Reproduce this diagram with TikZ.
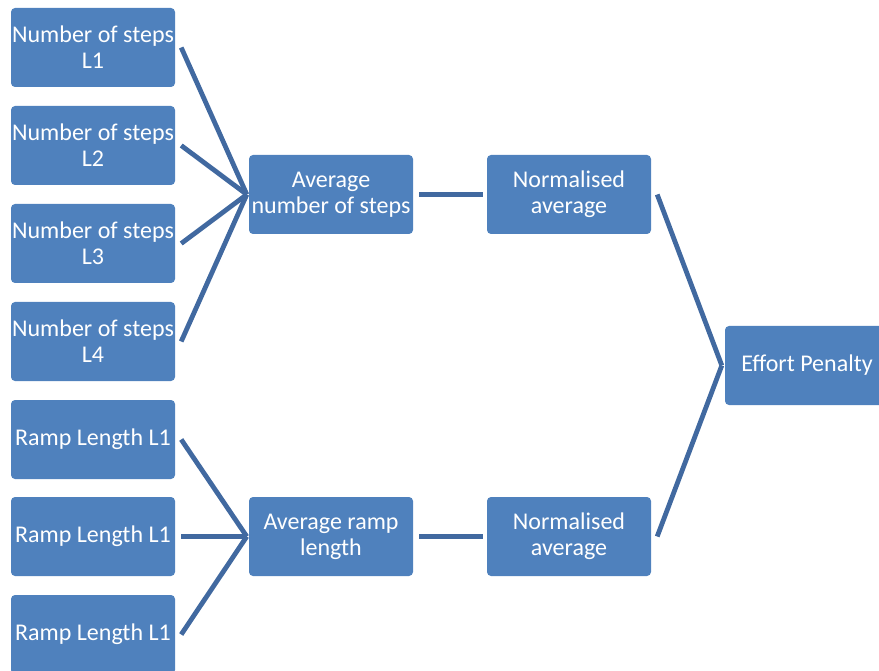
\documentclass[tikz,border=0pt]{standalone}
\usepackage{fontspec}
\setmainfont{Carlito}
\begin{document}
\begin{tikzpicture}[x=1pt,y=-1pt,
  box/.style={fill=boxblue, draw=none, rounded corners=4pt, minimum width=164pt,
    minimum height=79pt, inner sep=0pt, align=center, text=white,
    font=\fontsize{24}{26}\selectfont},
  link/.style={draw=linkblue, line width=4.8pt}]
\definecolor{boxblue}{HTML}{4F81BD}
\definecolor{linkblue}{HTML}{4169A0}
\useasboundingbox (0,0) rectangle (879,671);
\begin{scope}
\clip (0,0) rectangle (879,671);
% input boxes
\node[box] (s1) at (93,47.5)  {Number of steps\\L1};
\node[box] (s2) at (93,145.5) {Number of steps\\L2};
\node[box] (s3) at (93,243.5) {Number of steps\\L3};
\node[box] (s4) at (93,341.5) {Number of steps\\L4};
\node[box] (r1) at (93,439.5) {Ramp Length L1};
\node[box] (r2) at (93,536.5) {Ramp Length L1};
\node[box] (r3) at (93,634.5) {Ramp Length L1};
% averages
\node[box] (avs) at (331,194.5) {Average\\number of steps};
\node[box] (avr) at (331,536.5) {Average ramp\\length};
% normalised
\node[box] (ns) at (569,194.5) {Normalised\\average};
\node[box] (nr) at (569,536.5) {Normalised\\average};
% result
\node[box] (eff) at (807,365.5) {Effort Penalty};
\end{scope}
% connectors
\foreach \n in {s1,s2,s3,s4}
  \draw[link] ([xshift=6pt]\n.east) -- ([xshift=-2pt]avs.west);
\foreach \n in {r1,r2,r3}
  \draw[link] ([xshift=6pt]\n.east) -- ([xshift=-2pt]avr.west);
\draw[link] ([xshift=6pt]avs.east) -- ([xshift=-4pt]ns.west);
\draw[link] ([xshift=6pt]avr.east) -- ([xshift=-4pt]nr.west);
\draw[link] ([xshift=6pt]ns.east) -- ([xshift=-3pt]eff.west);
\draw[link] ([xshift=6pt]nr.east) -- ([xshift=-3pt]eff.west);
\end{tikzpicture}
\end{document}
